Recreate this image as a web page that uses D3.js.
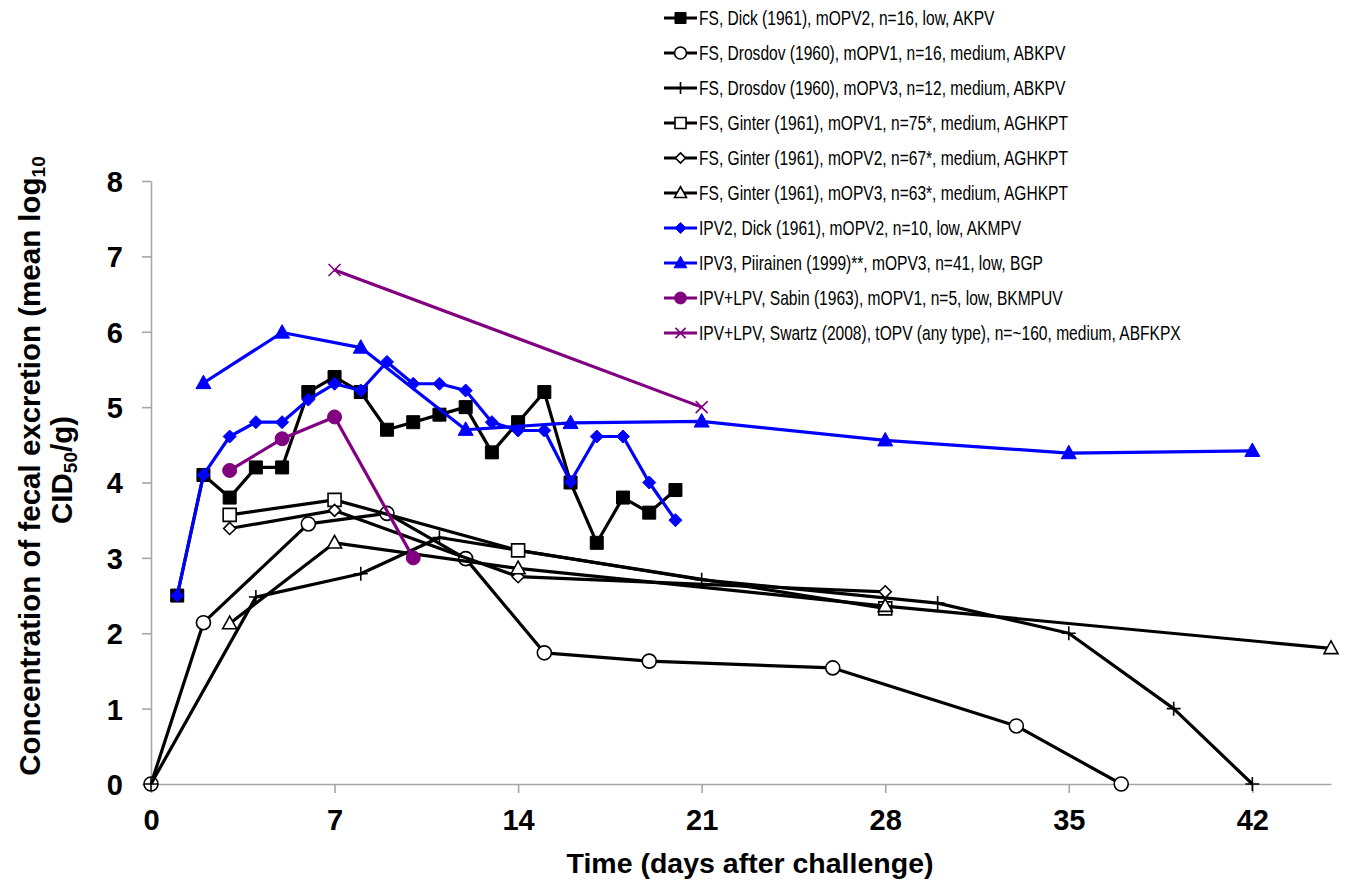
<!DOCTYPE html>
<html lang="en">
<head>
    <meta charset="UTF-8">
    <title>Fecal excretion after challenge</title>
    <style>
        body {
            margin: 0;
            background: #fff;
        }

        #chart-wrapper {
            width: 1361px;
            height: 895px;
        }

        text {
            font-family: Arial, "Liberation Sans", sans-serif;
        }
    </style>
</head>

<body>
    <div id="chart-wrapper"></div>

    <script src="https://d3js.org/d3.v7.min.js"></script>
    <script>
        // days after challenge + mean log10 CID50/g
        const dickFsDays = [1, 2, 3, 4, 5, 6, 7, 8, 9, 10, 11, 12, 13, 14, 15, 16, 17, 18, 19, 20]
        const dickFsValues = [2.5, 4.1, 3.8, 4.2, 4.2, 5.2, 5.4, 5.2, 4.7, 4.8, 4.9, 5.0, 4.4, 4.8, 5.2, 4.0, 3.2, 3.8, 3.6, 3.9]

        const drosdov1Days = [0, 2, 6, 9, 12, 15, 19, 26, 33, 37]
        const drosdov1Values = [0, 2.14, 3.45, 3.59, 2.99, 1.74, 1.63, 1.54, 0.77, 0]

        const drosdov3Days = [0, 4, 8, 11, 21, 30, 35, 39, 42]
        const drosdov3Values = [0, 2.48, 2.79, 3.27, 2.71, 2.4, 2.0, 1.0, 0]

        const ginter1Days = [3, 7, 14, 28]
        const ginter1Values = [3.57, 3.77, 3.1, 2.33]

        const ginter2Days = [3, 7, 14, 28]
        const ginter2Values = [3.39, 3.63, 2.75, 2.55]

        const ginter3Days = [3, 7, 14, 28, 45]
        const ginter3Values = [2.13, 3.2, 2.86, 2.36, 1.8]

        const dickIpvDays = [1, 2, 3, 4, 5, 6, 7, 8, 9, 10, 11, 12, 13, 14, 15, 16, 17, 18, 19, 20]
        const dickIpvValues = [2.5, 4.1, 4.61, 4.8, 4.8, 5.1, 5.31, 5.22, 5.6, 5.31, 5.31, 5.22, 4.8, 4.69, 4.69, 4.01, 4.61, 4.61, 4.0, 3.5]

        const piirainenDays = [2, 5, 8, 12, 16, 21, 28, 35, 42]
        const piirainenValues = [5.32, 5.99, 5.79, 4.7, 4.79, 4.81, 4.56, 4.39, 4.42]

        const sabinDays = [3, 5, 7, 10]
        const sabinValues = [4.16, 4.58, 4.87, 3.0]

        const swartzDays = [7, 21]
        const swartzValues = [6.82, 5.0]

        const seriesLabels = [
            'FS, Dick (1961), mOPV2, n=16, low, AKPV',
            'FS, Drosdov (1960), mOPV1, n=16, medium, ABKPV',
            'FS, Drosdov (1960), mOPV3, n=12, medium, ABKPV',
            'FS, Ginter (1961), mOPV1, n=75*, medium, AGHKPT',
            'FS, Ginter (1961), mOPV2, n=67*, medium, AGHKPT',
            'FS, Ginter (1961), mOPV3, n=63*, medium, AGHKPT',
            'IPV2, Dick (1961), mOPV2, n=10, low, AKMPV',
            'IPV3, Piirainen (1999)**, mOPV3, n=41, low, BGP',
            'IPV+LPV, Sabin (1963), mOPV1, n=5, low, BKMPUV',
            'IPV+LPV, Swartz (2008), tOPV (any type), n=~160, medium, ABFKPX'
        ]

        const xTicks = [0, 7, 14, 21, 28, 35, 42]
        const yTicks = [0, 1, 2, 3, 4, 5, 6, 7, 8]

        const black = '#000000'
        const blue = '#0000ff'
        const purple = '#800080'

        const series = [
            { days: dickFsDays, values: dickFsValues, color: black, marker: 'square', filled: true },
            { days: drosdov1Days, values: drosdov1Values, color: black, marker: 'circle', filled: false },
            { days: drosdov3Days, values: drosdov3Values, color: black, marker: 'plus', filled: false },
            { days: ginter1Days, values: ginter1Values, color: black, marker: 'square', filled: false },
            { days: ginter2Days, values: ginter2Values, color: black, marker: 'diamond', filled: false },
            { days: ginter3Days, values: ginter3Values, color: black, marker: 'triangle', filled: false },
            { days: dickIpvDays, values: dickIpvValues, color: blue, marker: 'diamond', filled: true },
            { days: piirainenDays, values: piirainenValues, color: blue, marker: 'triangle', filled: true },
            { days: sabinDays, values: sabinValues, color: purple, marker: 'circle', filled: true },
            { days: swartzDays, values: swartzValues, color: purple, marker: 'cross', filled: false }
        ].map((s, i) => ({
            ...s,
            label: seriesLabels[i],
            points: s.days.map((d, j) => ({ day: d, value: s.values[j] }))
        }))

        // marker half-sizes (px), filled / open
        const markerSize = {
            square: { true: 6.5, false: 6.5 },
            circle: { true: 7, false: 7 },
            diamond: { true: 6.5, false: 6 },
            triangle: { true: 7.5, false: 7 },
            plus: { true: 7, false: 7 },
            cross: { true: 6, false: 6 }
        }

        const width = 1361
        const height = 895
        const margin = { top: 181, right: 30, bottom: 111, left: 151 }

        const svg = d3.select('#chart-wrapper')
            .append('svg')
            .attr('width', width)
            .attr('height', height)

        const xScale = d3.scaleLinear()
            .domain([0, 45])
            .range([margin.left, 1331])

        const yScale = d3.scaleLinear()
            .domain([0, 8])
            .range([height - margin.bottom, margin.top])

        drawAxis()
        drawTitles()
        drawSeries()
        drawLegend()

        // marker outline, centered on 0,0
        function markerPath(type, r) {
            const p = d3.path()
            if (type === 'square') {
                p.rect(-r, -r, 2 * r, 2 * r)
            } else if (type === 'circle') {
                p.arc(0, 0, r, 0, 2 * Math.PI)
            } else if (type === 'diamond') {
                p.moveTo(0, -r); p.lineTo(r, 0); p.lineTo(0, r); p.lineTo(-r, 0); p.closePath()
            } else if (type === 'triangle') {
                p.moveTo(0, -r * 1.05); p.lineTo(r, r * 0.75); p.lineTo(-r, r * 0.75); p.closePath()
            } else if (type === 'plus') {
                p.moveTo(-r, 0); p.lineTo(r, 0); p.moveTo(0, -r); p.lineTo(0, r)
            } else if (type === 'cross') {
                p.moveTo(-r, -r); p.lineTo(r, r); p.moveTo(-r, r); p.lineTo(r, -r)
            }
            return p.toString()
        }

        function appendMarker(g, s, legend) {
            const r = markerSize[s.marker][s.filled] * (legend ? 0.85 : 1)
            const lineOnly = s.marker === 'plus' || s.marker === 'cross'
            g.append('path')
                .attr('d', markerPath(s.marker, r))
                .attr('fill', lineOnly ? 'none' : (s.filled ? s.color : '#fff'))
                .attr('stroke', s.color)
                .attr('stroke-width', s.filled ? 1 : 1.6)
        }

        function drawAxis() {
            const xAxis = d3.axisBottom(xScale)
                .tickValues(xTicks)
                .tickSize(9)
                .tickSizeOuter(0)
                .tickPadding(16)
            const yAxis = d3.axisLeft(yScale)
                .tickValues(yTicks)
                .tickSize(9)
                .tickSizeOuter(0)
                .tickPadding(19)

            const gx = svg.append('g')
                .attr('transform', `translate(0, ${yScale(0)})`)
                .call(xAxis)
            const gy = svg.append('g')
                .attr('transform', `translate(${margin.left}, 0)`)
                .call(yAxis)

            ;[gx, gy].forEach(g => {
                g.selectAll('.domain, .tick line')
                    .attr('stroke', '#a6a6a6')
                    .attr('stroke-width', 1.6)
                g.selectAll('.tick text')
                    .attr('fill', '#000')
                    .style('font-size', '29px')
                    .style('font-weight', 'bold')
            })
            gy.selectAll('.tick text').attr('dy', '0.36em')
        }

        function drawTitles() {
            svg.append('text')
                .attr('x', 750)
                .attr('y', 873)
                .attr('text-anchor', 'middle')
                .style('font-size', '28.5px')
                .style('font-weight', 'bold')
                .text('Time (days after challenge)')

            const yTitle = svg.append('text')
                .attr('transform', 'translate(40, 466) rotate(-90)')
                .attr('text-anchor', 'middle')
                .style('font-size', '29.5px')
                .style('font-weight', 'bold')

            yTitle.append('tspan')
                .attr('x', 0)
                .attr('y', 0)
                .text('Concentration of fecal excretion (mean log')
            yTitle.append('tspan')
                .attr('dy', 5)
                .style('font-size', '19px')
                .text('10')

            const line2 = svg.append('text')
                .attr('transform', 'translate(72, 470) rotate(-90)')
                .attr('text-anchor', 'middle')
                .style('font-size', '29.5px')
                .style('font-weight', 'bold')
            line2.append('tspan').text('CID')
            line2.append('tspan').attr('dy', 5).style('font-size', '19px').text('50')
            line2.append('tspan').attr('dy', -5).text('/g)')
        }

        function drawSeries() {
            const line = d3.line()
                .x(d => xScale(d.day))
                .y(d => yScale(d.value))

            series.forEach(s => {
                const g = svg.append('g').attr('class', 'series')
                g.append('path')
                    .datum(s.points)
                    .attr('fill', 'none')
                    .attr('stroke', s.color)
                    .attr('stroke-width', 3.2)
                    .attr('stroke-linejoin', 'round')
                    .attr('d', line)

                g.selectAll('.pt')
                    .data(s.points)
                    .join('g')
                    .attr('class', 'pt')
                    .attr('transform', d => `translate(${xScale(d.day)}, ${yScale(d.value)})`)
                    .each(function () {
                        appendMarker(d3.select(this), s, false)
                    })
            })
        }

        function drawLegend() {
            const legend = svg.append('g')
                .attr('class', 'legend')
                .attr('transform', 'translate(664, 18)')

            series.forEach((s, i) => {
                const row = legend.append('g')
                    .attr('transform', `translate(0, ${i * 35})`)
                row.append('line')
                    .attr('x1', 0)
                    .attr('x2', 33)
                    .attr('stroke', s.color)
                    .attr('stroke-width', 3.2)
                const m = row.append('g').attr('transform', 'translate(16.5, 0)')
                appendMarker(m, s, true)
                row.append('text')
                    .attr('transform', 'translate(35, 7) scale(0.76, 1)')
                    .style('font-size', '20.5px')
                    .text(s.label)
            })
        }
    </script>
</body>
</html>
